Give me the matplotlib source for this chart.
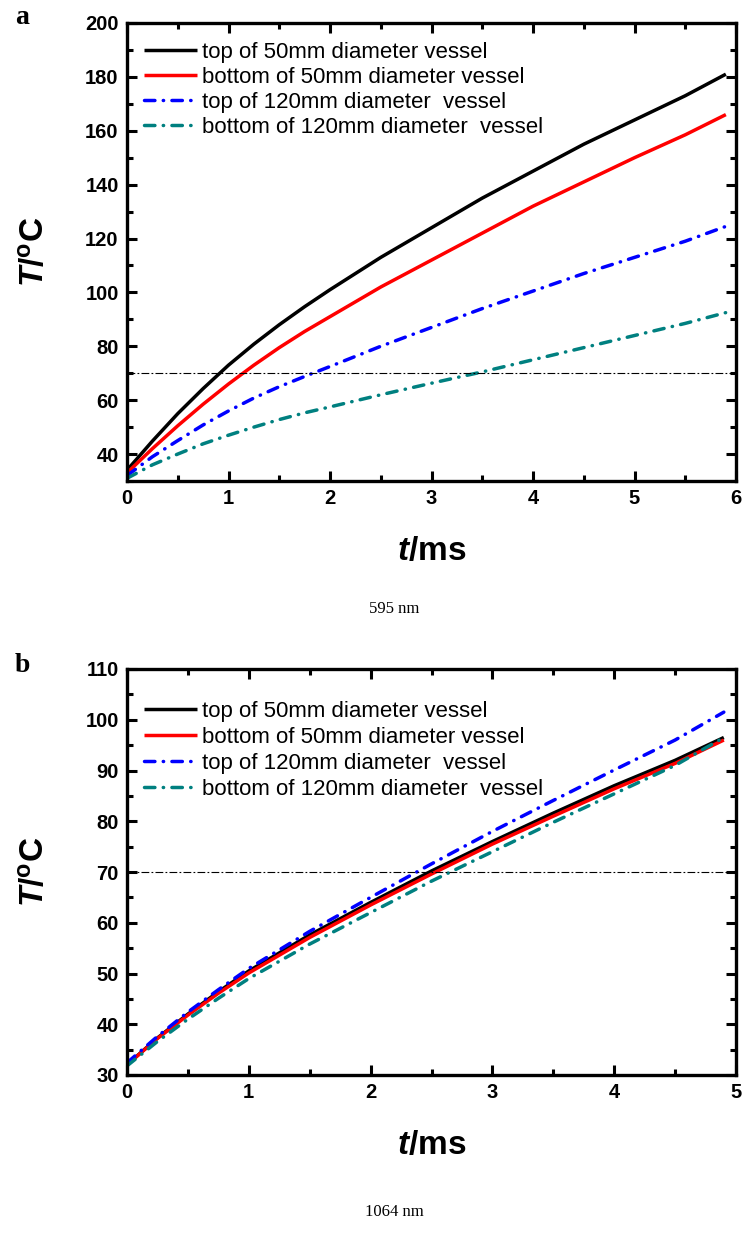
import matplotlib
matplotlib.use("Agg")
import matplotlib.pyplot as plt
from matplotlib.ticker import MultipleLocator

plt.rcParams['font.family'] = ['Liberation Sans Narrow', 'DejaVu Sans Condensed', 'Liberation Sans', 'DejaVu Sans']
plt.rcParams['mathtext.fontset'] = 'custom'
plt.rcParams['mathtext.rm'] = 'Liberation Sans'
plt.rcParams['mathtext.bf'] = 'Liberation Sans:bold'
plt.rcParams['mathtext.it'] = 'Liberation Sans:italic'
plt.rcParams['mathtext.bfit'] = 'Liberation Sans:italic:bold'

labels = ["top of 50mm diameter vessel",
          "bottom of 50mm diameter vessel",
          "top of 120mm diameter  vessel",
          "bottom of 120mm diameter  vessel"]
colors = ["black", "#ff0000", "#0000ff", "#008080"]

# Panel a (595 nm)
t_a = [0, 0.25, 0.5, 0.75, 1, 1.25, 1.5, 1.75, 2, 2.5, 3, 3.5, 4, 4.5, 5, 5.5, 5.9]
a_top50 = [34, 44.8, 55, 64.3, 73, 80.8, 88, 94.7, 101, 113, 124, 135, 145, 155, 164, 173, 181]
a_bot50 = [33, 42, 50.5, 58.5, 66, 73, 79.5, 85.5, 91, 102, 112, 122, 132, 141, 150, 158.5, 166]
a_top120 = [32, 39, 45, 50.8, 56, 60.8, 65, 68.8, 72.5, 80, 87, 94, 100.5, 107, 113, 119, 124.5]
a_bot120 = [31, 36, 40, 43.8, 47, 50, 52.8, 55.3, 57.5, 62, 66.3, 70.5, 75, 79.5, 84, 88.5, 92.5]

# Panel b (1064 nm)
t_b = [0, 0.25, 0.5, 0.75, 1, 1.5, 2, 2.5, 3, 3.5, 4, 4.5, 4.9]
b_top50 = [32, 37.3, 42, 46.4, 50.5, 57.6, 64, 70.2, 76, 81.6, 87, 92, 96.5]
b_bot50 = [32, 37.2, 41.8, 46.1, 50.1, 57.1, 63.5, 69.6, 75.5, 81, 86.4, 91.4, 96]
b_top120 = [32.4, 37.6, 42.4, 46.8, 51, 58.3, 65, 71.6, 78, 84.1, 90.1, 96, 101.5]
b_bot120 = [31.8, 36.6, 41, 45.1, 49, 55.8, 62, 68.2, 74, 79.8, 85.4, 91, 96.5]

threshold = 70

fig = plt.figure(figsize=(7.44, 12.39), dpi=100)
ax_a = fig.add_axes([127 / 744, 1 - 481 / 1239, 609 / 744, 458 / 1239])
ax_b = fig.add_axes([127 / 744, 1 - 1075 / 1239, 609 / 744, 406 / 1239])

dashdot = (0, (3.0, 2.4, 0.1, 2.4))
styles = ['-', '-', dashdot, dashdot]

def draw(ax, t, series, xlim, ylim, ymaj, ymin_, legend_bbox, lspace):
    for y, c, ls, lab in zip(series, colors, styles, labels):
        ax.plot(t, y, color=c, lw=2.5, linestyle=ls, label=lab,
                dash_capstyle='round', solid_capstyle='butt')
    ax.axhline(threshold, color='black', lw=0.8, linestyle=(0, (7, 2, 1.6, 2)))
    ax.set_xlim(*xlim)
    ax.set_ylim(*ylim)
    ax.xaxis.set_major_locator(MultipleLocator(1))
    ax.xaxis.set_minor_locator(MultipleLocator(0.5))
    ax.yaxis.set_major_locator(MultipleLocator(ymaj))
    ax.yaxis.set_minor_locator(MultipleLocator(ymin_))
    ax.tick_params(which='both', direction='in', top=True, right=True, width=2.2)
    ax.tick_params(which='major', length=7, pad=6, labelsize=14.5)
    ax.tick_params(which='minor', length=4)
    for lab in ax.get_xticklabels() + ax.get_yticklabels():
        lab.set_fontweight('bold')
    for sp in ax.spines.values():
        sp.set_linewidth(2.4)
    ax.set_xlabel(r'$\mathbfit{t}\mathbf{/ms}$', fontsize=24, labelpad=20)
    ax.set_ylabel(r'$\mathbfit{T}\mathbf{/^{o}C}$', fontsize=24, labelpad=24)
    ax.legend(loc='upper left', bbox_to_anchor=legend_bbox, frameon=False,
              fontsize=16, handlelength=2.4, handletextpad=0.2,
              labelspacing=lspace, borderaxespad=0, borderpad=0)

draw(ax_a, t_a, [a_top50, a_bot50, a_top120, a_bot120], (0, 6), (30, 200), 20, 10,
     (0.028, 0.9585), 0.18)
draw(ax_b, t_b, [b_top50, b_bot50, b_top120, b_bot120], (0, 5), (30, 110), 10, 5,
     (0.028, 0.921), 0.22)

fig.text(15 / 744, 1 - 18 / 1239, 'a', fontsize=20, fontweight='bold',
         family='Liberation Serif', va='center', ha='left')
fig.text(15 / 744, 1 - 665 / 1239, 'b', fontsize=20, fontweight='bold',
         family='Liberation Serif', va='center', ha='left')
fig.text(394 / 744, 1 - 609 / 1239, '595 nm', fontsize=12,
         family='Liberation Serif', va='center', ha='center')
fig.text(394 / 744, 1 - 1212 / 1239, '1064 nm', fontsize=12,
         family='Liberation Serif', va='center', ha='center')

fig.savefig('out.png', dpi=100)
